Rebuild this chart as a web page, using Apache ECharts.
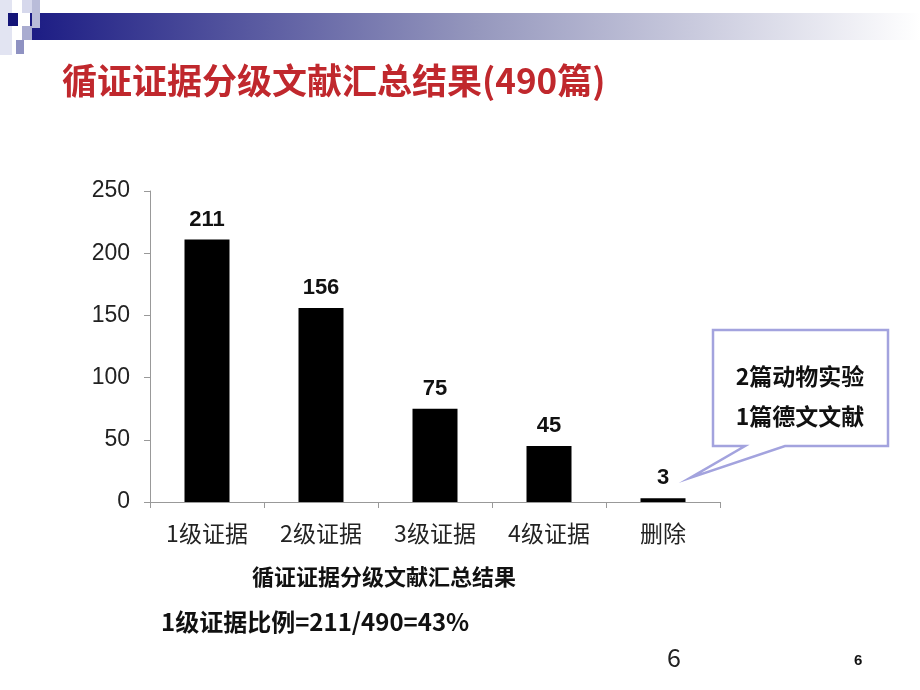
<!DOCTYPE html>
<html>
<head>
<meta charset="utf-8">
<script src="https://cdn.jsdelivr.net/npm/echarts@6/dist/echarts.min.js"></script>
<style>
  html, body { margin: 0; padding: 0; background: #fff; }
  #chartBox { width: 920px; height: 690px; }
</style>
</head>
<body>
<div id="chartBox"></div>
<script>
// 数据
var categories = ['1级证据', '2级证据', '3级证据', '4级证据', '删除']
var counts = [211, 156, 75, 45, 3]
var yTicks = [0, 50, 100, 150, 200, 250]
var noteLines = ['2篇动物实验', '1篇德文文献']

var cjk = '"Noto Sans CJK SC", "Microsoft YaHei", sans-serif'
var latin = '"Liberation Sans", Arial, sans-serif'

var myChart = echarts.init(document.getElementById('chartBox'))
myChart.setOption({
  animation: false,
  grid: { left: 150, right: 200, top: 191, bottom: 188 },
  xAxis: {
    type: 'category',
    data: categories,
    axisLine: { lineStyle: { color: '#999' } },
    axisTick: { show: true, length: 6, lineStyle: { color: '#999' } },
    axisLabel: { color: '#222', fontSize: 23, fontFamily: cjk, margin: 20 }
  },
  yAxis: {
    type: 'value',
    min: yTicks[0],
    max: yTicks[yTicks.length - 1],
    interval: 50,
    splitLine: { show: false },
    axisLine: { show: true, lineStyle: { color: '#999' } },
    axisTick: { show: true, length: 6, lineStyle: { color: '#999' } },
    axisLabel: { color: '#222', fontSize: 23, fontFamily: latin, margin: 20 }
  },
  series: [{
    type: 'bar',
    data: counts,
    barWidth: 45,
    itemStyle: { color: '#000' },
    label: {
      show: true,
      position: 'top',
      distance: 9,
      color: '#111',
      fontSize: 22,
      fontWeight: 'bold',
      fontFamily: latin
    }
  }],
  graphic: [
    // 顶部装饰条
    {
      type: 'rect',
      shape: { x: 30, y: 13, width: 890, height: 27 },
      style: {
        fill: new echarts.graphic.LinearGradient(0, 0, 1, 0, [
          { offset: 0, color: '#1c1c84' },
          { offset: 0.5, color: '#9597bd' },
          { offset: 1, color: '#ffffff' }
        ])
      }
    },
    { type: 'rect', shape: { x: 0, y: 0, width: 12, height: 55 }, style: { fill: '#e2e4f2' } },
    { type: 'rect', shape: { x: 8, y: 13, width: 10, height: 13 }, style: { fill: '#141478' } },
    { type: 'rect', shape: { x: 22, y: 0, width: 10, height: 13 }, style: { fill: '#d6d8ec' } },
    { type: 'rect', shape: { x: 32, y: 0, width: 8, height: 28 }, style: { fill: '#b9bcd9' } },
    { type: 'rect', shape: { x: 22, y: 26, width: 10, height: 14 }, style: { fill: '#a9acd0' } },
    { type: 'rect', shape: { x: 16, y: 40, width: 8, height: 14 }, style: { fill: '#8f92c2' } },
    // 标题
    {
      type: 'text', left: 62, top: 63,
      style: { text: '循证证据分级文献汇总结果(490篇)', fill: '#c0282d', font: 'bold 35px ' + cjk }
    },
    // 标注框
    {
      type: 'polygon',
      shape: { points: [[713, 330], [888, 330], [888, 446], [785, 446], [690, 478], [745, 446], [713, 446]] },
      style: { fill: '#fff', stroke: '#a3a3de', lineWidth: 2.5 }
    },
    {
      type: 'text', x: 800, y: 376,
      style: { text: noteLines[0], fill: '#111', font: 'bold 23px ' + cjk, align: 'center', verticalAlign: 'middle' }
    },
    {
      type: 'text', x: 800, y: 416,
      style: { text: noteLines[1], fill: '#111', font: 'bold 23px ' + cjk, align: 'center', verticalAlign: 'middle' }
    },
    // 底部文字
    {
      type: 'text', left: 252, top: 566,
      style: { text: '循证证据分级文献汇总结果', fill: '#111', font: 'bold 22px ' + cjk }
    },
    {
      type: 'text', left: 161, top: 610,
      style: { text: '1级证据比例=211/490=43%', fill: '#111', font: 'bold 24px ' + cjk }
    },
    {
      type: 'text', left: 667, top: 645,
      style: { text: '6', fill: '#222', font: '25px ' + cjk }
    },
    {
      type: 'text', left: 854, top: 653,
      style: { text: '6', fill: '#111', font: 'bold 15px ' + latin }
    }
  ]
})
</script>
</body>
</html>
